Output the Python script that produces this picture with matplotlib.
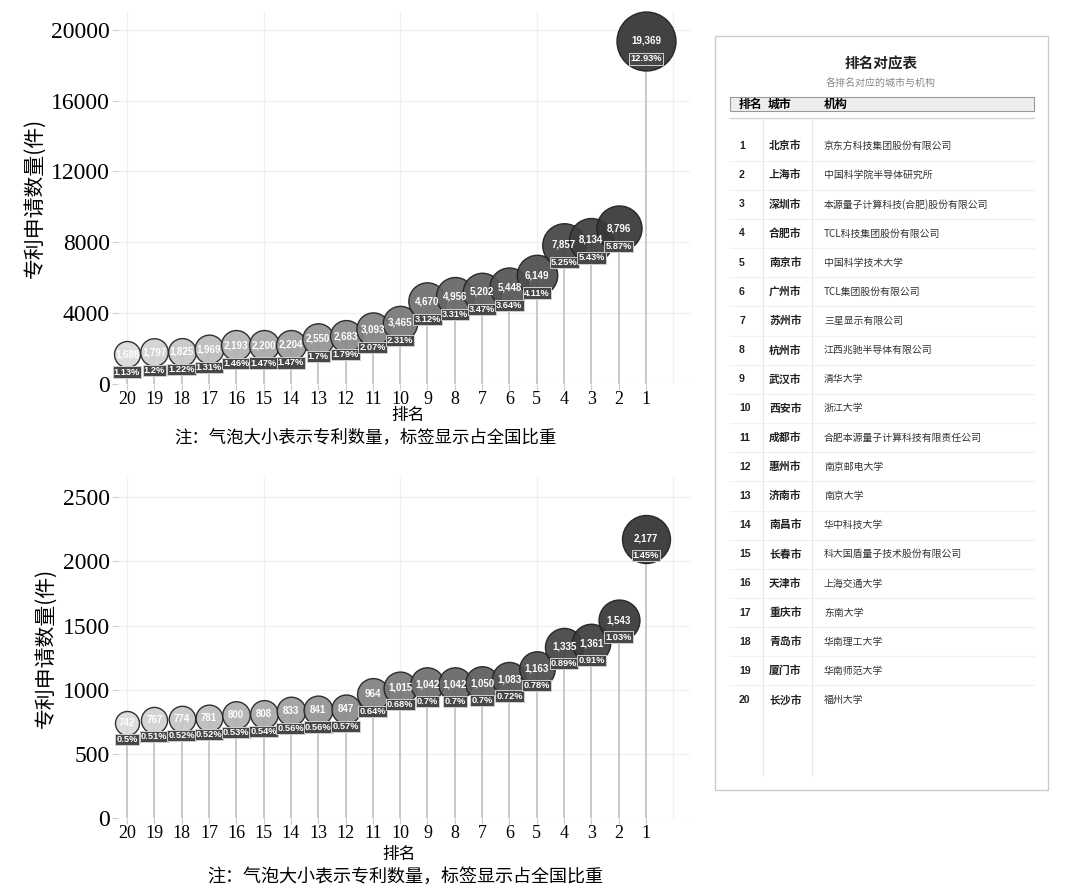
import matplotlib
matplotlib.use("Agg")
import matplotlib.pyplot as plt
import numpy as np
from matplotlib.patches import Rectangle

# ---------------- data ----------------
ranks = list(range(1, 21))
top_values = [19369, 8796, 8134, 7857, 6149, 5448, 5202, 4956, 4670, 3465,
              3093, 2683, 2550, 2204, 2200, 2193, 1969, 1825, 1797, 1688]
top_pcts = ["12.93%", "5.87%", "5.43%", "5.25%", "4.11%", "3.64%", "3.47%", "3.31%", "3.12%", "2.31%",
            "2.07%", "1.79%", "1.7%", "1.47%", "1.47%", "1.46%", "1.31%", "1.22%", "1.2%", "1.13%"]
bot_values = [2177, 1543, 1361, 1335, 1163, 1083, 1050, 1042, 1042, 1015,
              964, 847, 841, 833, 808, 800, 781, 774, 767, 742]
bot_pcts = ["1.45%", "1.03%", "0.91%", "0.89%", "0.78%", "0.72%", "0.7%", "0.7%", "0.7%", "0.68%",
            "0.64%", "0.57%", "0.56%", "0.56%", "0.54%", "0.53%", "0.52%", "0.52%", "0.51%", "0.5%"]
cities = ["北京市", "上海市", "深圳市", "合肥市", "南京市", "广州市", "苏州市", "杭州市", "武汉市", "西安市",
          "成都市", "惠州市", "济南市", "南昌市", "长春市", "天津市", "重庆市", "青岛市", "厦门市", "长沙市"]
orgs = ["京东方科技集团股份有限公司", "中国科学院半导体研究所", "本源量子计算科技(合肥)股份有限公司",
        "TCL科技集团股份有限公司", "中国科学技术大学", "TCL集团股份有限公司", "三星显示有限公司",
        "江西兆驰半导体有限公司", "清华大学", "浙江大学", "合肥本源量子计算科技有限责任公司",
        "南京邮电大学", "南京大学", "华中科技大学", "科大国盾量子技术股份有限公司", "上海交通大学",
        "东南大学", "华南理工大学", "华南师范大学", "福州大学"]
top_yticks = [0, 4000, 8000, 12000, 16000, 20000]
bot_yticks = [0, 500, 1000, 1500, 2000, 2500]

CJK = ["Noto Sans CJK SC", "DejaVu Sans"]
SERIF = ["Liberation Serif", "DejaVu Serif"]
SANS = ["Liberation Sans", "DejaVu Sans"]

W, H = 1080, 888
fig = plt.figure(figsize=(W / 100, H / 100), dpi=100)
fig.patch.set_facecolor("white")


def px_axes(l, r, t, b):
    return fig.add_axes([l / W, 1 - b / H, (r - l) / W, (b - t) / H])


def bubble_chart(ax, values, pcts, yticks, ytop, rmin, rmax, pct_off):
    ax.set_xlim(20.33, -0.61)
    ax.set_ylim(0, ytop)
    for s in ax.spines.values():
        s.set_visible(False)
    ax.set_yticks(yticks)
    ax.set_yticklabels([str(t) for t in yticks], family=SERIF, fontsize=17)
    ax.set_xticks(ranks)
    ax.set_xticklabels([str(r) for r in ranks], family=SERIF, fontsize=13)
    ax.tick_params(axis="y", length=4, color="#cccccc", pad=2)
    ax.tick_params(axis="x", which="major", length=4, color="#cccccc", pad=1)
    ax.grid(False)
    for t in yticks:
        ax.axhline(t, color="#f0f0f0", lw=1, zorder=0)
    for t in [0, 5, 10, 15, 20]:
        ax.axvline(t, color="#f0f0f0", lw=1, zorder=0)
    vmin, vmax = min(values), max(values)
    order = list(range(19, -1, -1))
    for i in order:
        rk, v = ranks[i], values[i]
        ax.plot([rk, rk], [0, v], color="#c4c4c4", lw=1.3, zorder=1)
    for i in order:
        rk, v = ranks[i], values[i]
        frac = ((v - vmin) / (vmax - vmin)) ** 0.6
        r = rmin + (rmax - rmin) * frac
        g = 0.2 + 0.66 * ((rk - 1) / 19) ** 1.2
        ax.scatter([rk], [v], s=(2 * r * 0.72) ** 2, color=(g, g, g), edgecolor="#222222",
                   linewidth=1.0, alpha=0.93, zorder=2 + (20 - i) * 0.01, clip_on=False)
        ax.text(rk, v, f"{v:,}", ha="center", va="center", color="white", fontsize=7,
                fontweight="bold", family=SANS, zorder=3)
        ax.annotate(pcts[i], (rk, v), xytext=(0, -pct_off * 0.72), textcoords="offset points",
                    ha="center", va="center", color="white", fontsize=6.7, fontweight="bold",
                    family=SANS, zorder=4,
                    bbox=dict(boxstyle="square,pad=0.12", fc="#474747", ec="#cfcfcf", lw=0.7))


ax1 = px_axes(118, 690, 12, 384)
bubble_chart(ax1, top_values, top_pcts, top_yticks, 21000, 13, 29.5, 18)
ax1.set_ylabel("专利申请数量(件)", family=CJK, fontsize=15, labelpad=4)

ax2 = px_axes(118, 690, 478, 818)
bubble_chart(ax2, bot_values, bot_pcts, bot_yticks, 2650, 12, 24, 17)
ax2.set_ylabel("专利申请数量(件)", family=CJK, fontsize=15, labelpad=4)

fig.text(408 / W, 1 - 415 / H, "排名", family=CJK, fontsize=12, ha="center", va="center")
fig.text(365 / W, 1 - 437 / H, "注：气泡大小表示专利数量，标签显示占全国比重", family=CJK,
         fontsize=12.5, ha="center", va="center")
fig.text(399 / W, 1 - 854 / H, "排名", family=CJK, fontsize=12, ha="center", va="center")
fig.text(405 / W, 1 - 877 / H, "注：气泡大小表示专利数量，标签显示占全国比重", family=CJK,
         fontsize=13, ha="center", va="center")

# ---------------- table panel ----------------
axt = fig.add_axes([0, 0, 1, 1], zorder=-1)
axt.set_xlim(0, W)
axt.set_ylim(H, 0)
axt.axis("off")
axt.add_patch(Rectangle((715, 36), 333, 754, fc="white", ec="#cccccc", lw=1))
axt.text(881, 63, "排名对应表", family=CJK, fontsize=10.5, fontweight="bold", ha="center", va="center",
         color="#222222")
axt.text(881, 84, "各排名对应的城市与机构", family=CJK, fontsize=7.2, ha="center", va="center",
         color="#888888")
axt.add_patch(Rectangle((730, 97), 304, 14, fc="#eeeeee", ec="#999999", lw=0.8))
axt.text(739, 104, "排名", family=CJK, fontsize=8.6, fontweight="bold", ha="left", va="center")
axt.text(768, 104, "城市", family=CJK, fontsize=8.6, fontweight="bold", ha="left", va="center")
axt.text(824, 104, "机构", family=CJK, fontsize=8.6, fontweight="bold", ha="left", va="center")
axt.plot([730, 1034], [118, 118], color="#d4d4d4", lw=1)
for xc in [763, 812]:
    axt.plot([xc, xc], [118, 775], color="#e6e6e6", lw=0.8)
row0, dy = 146, 29.16
for i in range(20):
    y = row0 + i * dy
    if i < 19:
        axt.plot([730, 1034], [y + dy / 2, y + dy / 2], color="#f0f0f0", lw=0.8)
    axt.text(739, y, str(ranks[i]), family=SANS, fontsize=7.6, fontweight="bold", ha="left", va="center",
             color="#222222")
    axt.text(769, y, cities[i], family=CJK, fontsize=7.8, fontweight="bold", ha="left", va="center",
             color="#222222")
    axt.text(824, y, orgs[i], family=CJK, fontsize=7.1, ha="left", va="center", color="#333333")

fig.savefig("out.png", dpi=100, facecolor="white")
